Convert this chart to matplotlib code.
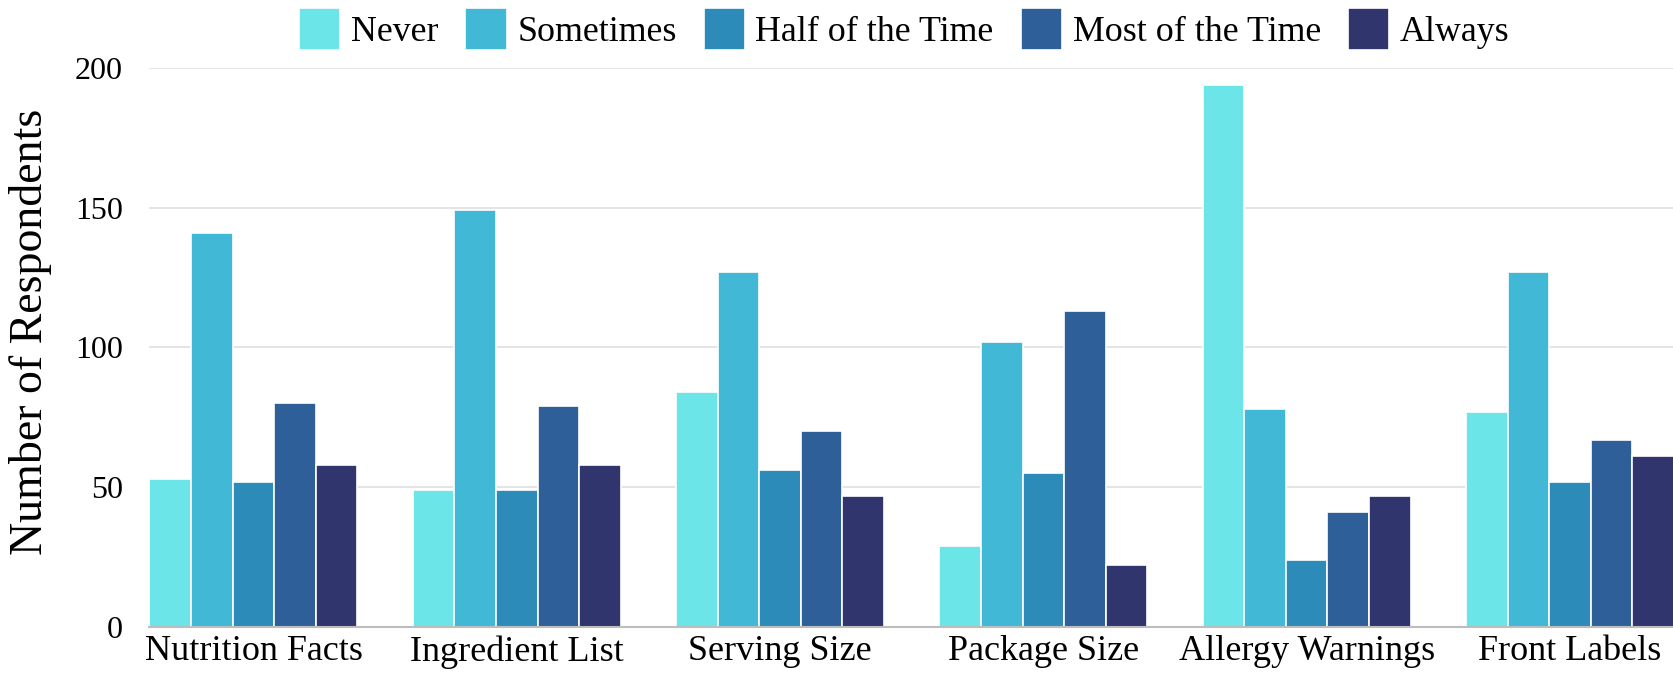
import matplotlib
matplotlib.use("Agg")
import matplotlib.pyplot as plt
import numpy as np

categories = ["Nutrition Facts", "Ingredient List", "Serving Size",
              "Package Size", "Allergy Warnings", "Front Labels"]
series_names = ["Never", "Sometimes", "Half of the Time", "Most of the Time", "Always"]
never = [53, 49, 84, 29, 194, 77]
sometimes = [141, 149, 127, 102, 78, 127]
half_time = [52, 49, 56, 55, 24, 52]
most_time = [80, 79, 70, 113, 41, 67]
always = [58, 58, 47, 22, 47, 61]
colors = ["#6be5e8", "#41b8d5", "#2d8bba", "#2f5f98", "#31356e"]
yticks = [0, 50, 100, 150, 200]

plt.rcParams['font.family'] = ['Liberation Serif', 'DejaVu Serif']

fig = plt.figure(figsize=(16.74, 6.78), dpi=100)
ax = fig.add_axes([0.0893, 0.0752, 0.9107, 0.8249])

data = [never, sometimes, half_time, most_time, always]
x = np.arange(len(categories))
group_w = 0.79
bw = group_w / len(data)
for i, (vals, name, c) in enumerate(zip(data, series_names, colors)):
    offs = -group_w / 2 + bw * (i + 0.5)
    ax.bar(x + offs, vals, width=bw, color=c, edgecolor="white",
           linewidth=1.2, label=name, zorder=3)

ax.set_xlim(-group_w / 2, len(categories) - 1 + group_w / 2)
ax.set_ylim(0, 200)
ax.set_yticks(yticks)
ax.set_xticks(x)
ax.set_xticklabels(categories, fontsize=26)
ax.tick_params(axis='y', labelsize=23, length=0, pad=19)
ax.tick_params(axis='x', length=0, pad=6)
ax.grid(axis='y', color="#e2e2e2", linewidth=1.3, zorder=0)
for s in ["top", "right", "left"]:
    ax.spines[s].set_visible(False)
ax.spines["bottom"].set_color("#bdbdbd")
ax.spines["bottom"].set_linewidth(1.5)
ax.spines["bottom"].set_zorder(4)

fig.text(0.018, 0.51, "Number of Respondents", rotation=90, ha="center",
         va="center", fontsize=33)

leg = ax.legend(loc="center", bbox_to_anchor=(0.495, (627 - 29) / 559.3),
                ncol=5, frameon=False, fontsize=25.8, handlelength=1.15,
                handleheight=1.4, handletextpad=0.3, columnspacing=0.75,
                borderaxespad=0)
fig.savefig("out.png", dpi=100)
